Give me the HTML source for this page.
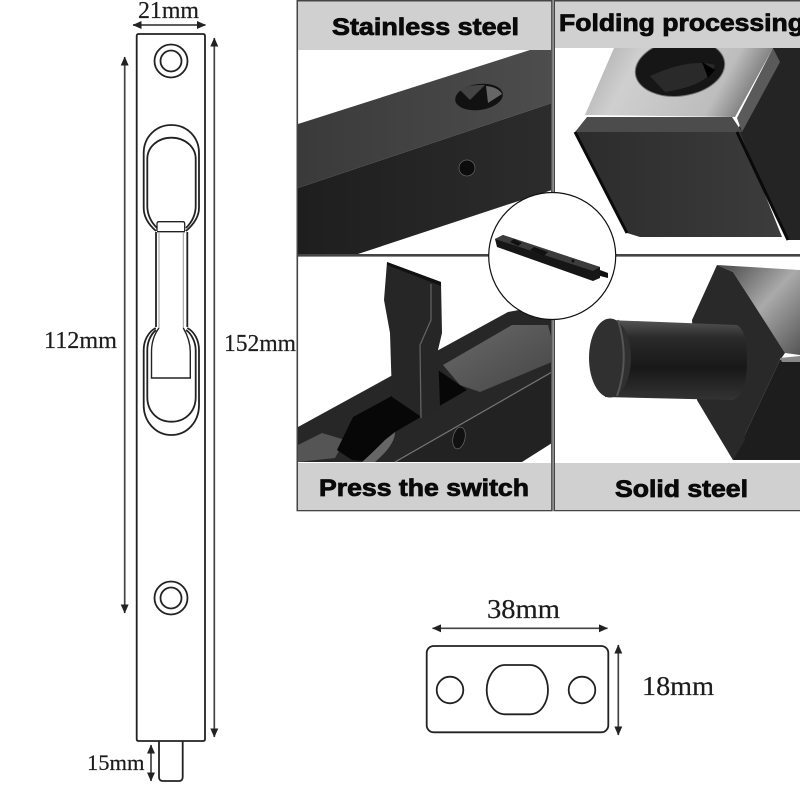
<!DOCTYPE html>
<html>
<head>
<meta charset="utf-8">
<style>
html,body{margin:0;padding:0;background:#fff;width:800px;height:800px;overflow:hidden}
svg{display:block}
.d{font-family:"Liberation Serif",serif;fill:#1c1c1c;stroke:#1c1c1c;stroke-width:.2px}
.l{font-family:"Liberation Sans",sans-serif;font-weight:bold;font-size:24px;fill:#0a0a0a;stroke:#0a0a0a;stroke-width:.8px}
</style>
</head>
<body>
<svg width="800" height="800" viewBox="0 0 800 800" xmlns="http://www.w3.org/2000/svg">
<defs>
<linearGradient id="a1" x1="0" y1="0" x2="1" y2="0"><stop offset="0" stop-color="#3a3a3a"/><stop offset="1" stop-color="#4d4d4d"/></linearGradient>
<linearGradient id="a2" x1="0" y1="0" x2="1" y2="0"><stop offset="0" stop-color="#1e1e1e"/><stop offset="1" stop-color="#2c2c2c"/></linearGradient>
<linearGradient id="b1" x1="0" y1="0" x2="1" y2="0.2"><stop offset="0" stop-color="#a8a8a8"/><stop offset=".3" stop-color="#cfcfcf"/><stop offset=".8" stop-color="#bdbdbd"/><stop offset="1" stop-color="#777"/></linearGradient>
<linearGradient id="b2" x1="0" y1="0" x2="1" y2="0"><stop offset="0" stop-color="#2c2c2c"/><stop offset="1" stop-color="#3c3c3c"/></linearGradient>
<linearGradient id="c1" x1="0" y1="0" x2="0" y2="1"><stop offset="0" stop-color="#555"/><stop offset=".22" stop-color="#2a2a2a"/><stop offset=".6" stop-color="#181818"/><stop offset="1" stop-color="#333"/></linearGradient>
<linearGradient id="d1" x1="0" y1="0" x2="1" y2="1"><stop offset="0" stop-color="#444"/><stop offset=".5" stop-color="#aaa"/><stop offset="1" stop-color="#555"/></linearGradient>
<linearGradient id="e1" x1="0" y1="0" x2="1" y2="1"><stop offset="0" stop-color="#6a6a6a"/><stop offset="1" stop-color="#454545"/></linearGradient>
<clipPath id="p1"><rect x="298" y="2" width="253" height="252"/></clipPath>
<clipPath id="p2"><rect x="555" y="2" width="245" height="252"/></clipPath>
<clipPath id="p3"><rect x="298" y="257" width="253" height="253"/></clipPath>
<clipPath id="p4"><rect x="555" y="257" width="245" height="253"/></clipPath>
<marker id="ar" viewBox="0 0 10 10" refX="9.500" refY="5" markerWidth="9" markerHeight="8" markerUnits="userSpaceOnUse" orient="auto-start-reverse" preserveAspectRatio="none"><path d="M0 0L10 5L0 10z" fill="#222"/></marker>
</defs>

<!-- Bolt drawing -->
<g fill="none" stroke="#222" stroke-width="1.800">
<path d="M136.700 36Q136.700 34 138.700 34H203Q205 34 205 36V739Q205 741 203 741H138.700Q136.700 741 136.700 739Z" fill="#fff"/>
<path d="M159 741V777Q159 781 163 781H179Q182.700 781 182.700 777V741"/>
<circle cx="171" cy="61" r="16.500"/><circle cx="171" cy="61" r="10.500"/>
<circle cx="171" cy="598" r="16.500"/><circle cx="171" cy="598" r="10.500"/>
<path d="M156 231C148 224 143.700 216 143.700 208V153C143.700 137 156 125 171.300 125C187 125 199 137 199 153V208C199 216 194 224 186 231"/>
<path d="M157 228C150 221 147.300 214 147.300 206V159C147.300 147 158 137.700 171.300 137.700C185 137.700 195.700 147 195.700 159V206C195.700 214 192 222 186 228" />
<path d="M157 231V224Q157 221.700 159 221.700H183Q184.700 221.700 184.700 224V231M157 231.700H185" stroke-width="1.300"/>
<path d="M156 232V327M187.300 232V327" />
<path d="M159 232V328M183.300 232V328" stroke="#999" stroke-width="1"/>
<path d="M155.700 328C148 332 143.700 341 143.700 350V405C143.700 422 156 435 171.300 435C187 435 199 422 199 405V350C199 341 195 332 187.300 328"/>
<path d="M156 330C150 335 147.300 343 147.300 350V397C147.300 412 158 421.700 171.300 421.700C185 421.700 195.700 412 195.700 397V350C195.700 343 192 334 186 330"/>
<path d="M159 328C153 336 151.500 345 151.500 352V378H190.300V352C190.300 345 188 336 183.300 328" stroke-width="1.400"/>
</g>
<!-- Dimension arrows -->
<g stroke="#444" stroke-width="1.700" fill="none">
<path d="M124.700 57V613" marker-start="url(#ar)" marker-end="url(#ar)"/>
<path d="M214.300 38V737" marker-start="url(#ar)" marker-end="url(#ar)"/>
<path d="M133 25H205.500" marker-start="url(#ar)" marker-end="url(#ar)"/>
<path d="M151 745V781" marker-start="url(#ar)" marker-end="url(#ar)"/>
<path d="M432.500 628.300H607.500" marker-start="url(#ar)" marker-end="url(#ar)"/>
<path d="M618.300 645V735" marker-start="url(#ar)" marker-end="url(#ar)"/>
</g>
<text class="d" x="138" y="18" font-size="24" textLength="61" lengthAdjust="spacingAndGlyphs">21mm</text>
<text class="d" x="44" y="348" font-size="24" textLength="73" lengthAdjust="spacingAndGlyphs">112mm</text>
<text class="d" x="224" y="351" font-size="24" textLength="72" lengthAdjust="spacingAndGlyphs">152mm</text>
<text class="d" x="87" y="770" font-size="22.500" textLength="57.500" lengthAdjust="spacingAndGlyphs">15mm</text>
<text class="d" x="487" y="618" font-size="27" textLength="73" lengthAdjust="spacingAndGlyphs">38mm</text>
<text class="d" x="642" y="695" font-size="27" textLength="72" lengthAdjust="spacingAndGlyphs">18mm</text>

<!-- Small plate -->
<g fill="none" stroke="#222" stroke-width="1.800">
<rect x="426.700" y="646" width="181.600" height="86.300" rx="7"/>
<circle cx="450" cy="690" r="13.300"/><circle cx="582" cy="690" r="13.300"/>
<path d="M505 665H530C541 665 548 678 548 690C548 702 541 714.300 530 714.300H505C494 714.300 486.700 702 486.700 690C486.700 678 494 665 505 665Z"/>
</g>

<!-- Photo frames -->
<g fill="none" stroke="#444" stroke-width="1.600">
<rect x="297.300" y="0.800" width="254.600" height="254"/>
<rect x="297.300" y="255.800" width="254.600" height="254.700"/>
<path d="M801 0.800H554.200V254.800H801M801 255.800H554.200V510.500H801"/>
</g>

<!-- Photo 1 -->
<g clip-path="url(#p1)">
<polygon points="298,124 530,50 552,50 552,103 298,188" fill="url(#a1)"/>
<polygon points="298,188 552,103 552,190 358,254 298,254" fill="url(#a2)"/>
<ellipse cx="479" cy="97" rx="24" ry="13" transform="rotate(-8 479 97)" fill="#111"/>
<path d="M460 90Q470 84 485 85L470 100Z" fill="#444"/>
<path d="M486 86Q498 87 502 94L488 103Z" fill="#666"/>
<ellipse cx="467" cy="168" rx="8" ry="8" fill="#0c0c0c" stroke="#666" stroke-width=".7"/>
</g>
<rect x="298" y="2" width="253" height="48" fill="#d0d0d0"/>
<text class="l" x="332" y="35" textLength="187" lengthAdjust="spacingAndGlyphs">Stainless steel</text>

<!-- Photo 2 -->
<g clip-path="url(#p2)">
<polygon points="614,48 773,48 735,117 585,115" fill="url(#b1)"/>
<polygon points="773,48 800,48 800,240 788,240 737,132" fill="#242424"/>
<path d="M773 48L737 118L742 132L780 62Z" fill="#5a5a5a"/>
<ellipse cx="680" cy="68" rx="45" ry="28" transform="rotate(-8 680 68)" fill="#161616" stroke="#777"/>
<path d="M650 76Q690 58 715 65Q710 85 665 92Z" fill="#2a2a2a"/>
<path d="M702 62L715 70L708 78Z" fill="#000"/>
<polygon points="575,132 587,117 732,117 742,132" fill="#4c4c4c"/>
<polygon points="575,132 740,132 782,237 640,237 627,233" fill="url(#b2)"/>
<path d="M575 132L627 233M737 132L788 240" stroke="#0a0a0a" stroke-width="3" fill="none"/>
</g>
<rect x="555" y="2" width="245" height="46" fill="#d0d0d0"/>
<text class="l" x="559" y="31" textLength="245" lengthAdjust="spacingAndGlyphs">Folding processing</text>

<!-- Photo 3 -->
<g clip-path="url(#p3)">
<polygon points="298,427 508,312 530,308 552,320 552,372 395,462 298,462" fill="#272727"/>
<polygon points="395,462 552,372 552,443 522,462" fill="#222"/>
<polygon points="443,365 512,325 548,325 552,340 552,362 480,392 460,385" fill="url(#e1)"/>
<polygon points="298,445 322,433 345,440 335,458 298,462" fill="#555"/>
<polygon points="337,450 353,417 390,397 438,370 467,390 395,432 375,462 352,460" fill="#070707"/>
<path d="M375 462Q395 445 395 432L385 440Q370 455 362 462Z" fill="#666"/>
<path d="M395 462L552 372" stroke="#777" stroke-width="1.200"/>
<polygon points="387,262 441,282 442,333 438,350 440,407 423,418 392,397 390,333 384,300" fill="#262626"/>
<path d="M431 284L431 320L420 345L421 418" stroke="#666" stroke-width="1.200" fill="none"/>
<polygon points="387,262 441,282 441,286 387,265" fill="#111"/>
<ellipse cx="459" cy="438" rx="6" ry="11" transform="rotate(12 459 438)" fill="#111" stroke="#666" stroke-width=".7"/>
</g>
<rect x="298" y="463" width="253" height="47" fill="#d0d0d0"/>
<text class="l" x="319" y="496" textLength="210" lengthAdjust="spacingAndGlyphs">Press the switch</text>

<!-- Photo 4 -->
<g clip-path="url(#p4)">
<polygon points="717,265 800,270 800,355 785,353 733,272" fill="url(#d1)"/>
<polygon points="717,265 692,320 697,400 733,460 780,360 785,353 733,272" fill="#292929"/>
<polygon points="780,360 800,358 800,460 733,460" fill="#1d1d1d"/>
<polygon points="780,358 800,356 800,362 782,362" fill="#888"/>
<polygon points="697,400 733,460 745,440 740,395" fill="#292929"/>
<path d="M608 320L737 325Q747 330 747 360Q747 395 733 400L605 397Z" fill="url(#c1)"/>
<ellipse cx="610" cy="358" rx="21" ry="39.500" fill="#303030"/>
<path d="M618 320Q630 358 617 396" stroke="#555" stroke-width="2" fill="none"/>
</g>
<rect x="555" y="463" width="245" height="47" fill="#d0d0d0"/>
<text class="l" x="615" y="497" textLength="133" lengthAdjust="spacingAndGlyphs">Solid steel</text>

<!-- Center circle -->
<circle cx="552.200" cy="256" r="63.500" fill="#fff" stroke="#111" stroke-width="1.200"/>
<polygon points="495,239 503,235 600,267 600,278 593,281 497,247" fill="#161616"/>
<polygon points="495,239 503,235 600,267 593,271" fill="#3c3c3c"/>
<polygon points="514,239 522,243 518,246 510,242" fill="#111"/>
<polygon points="534,247 548,252 544,256 530,250" fill="#111"/>
<circle cx="573" cy="261" r="1.500" fill="#111"/>
<polygon points="600,270 608,273 608,278 600,276" fill="#111"/>
</svg>
</body>
</html>
